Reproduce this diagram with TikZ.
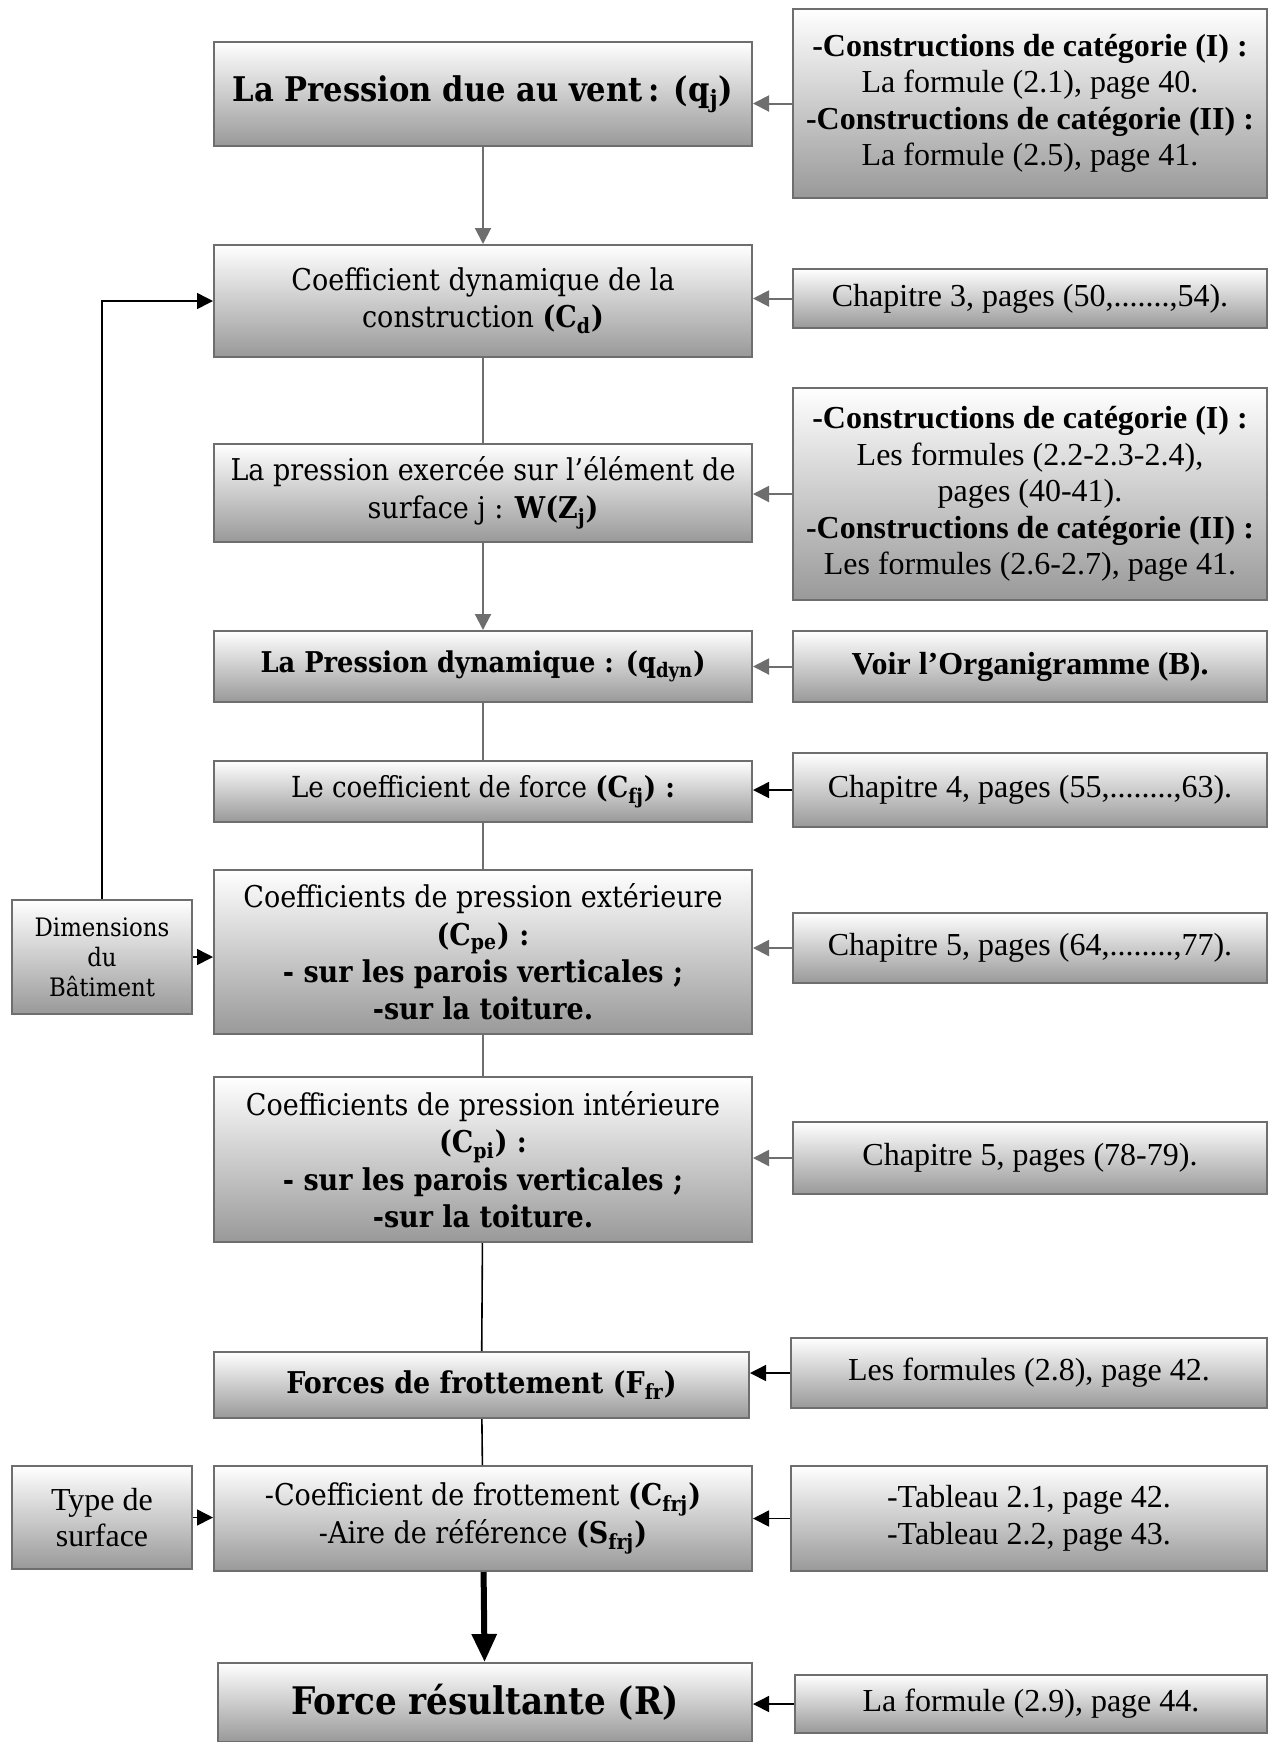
\documentclass[tikz,border=0pt]{standalone}
\usepackage{fontspec}
\setmainfont{Liberation Serif}
\newfontfamily\cambria{DejaVu Serif Condensed}
\usetikzlibrary{arrows.meta}

\begin{document}
\begin{tikzpicture}[x=0.5pt,y=-0.5pt,
  box/.style={draw=black!57, line width=1pt, top color=white, bottom color=black!40, align=center, inner sep=2pt},
  mainbox/.style={box, minimum width=269pt, font=\cambria\fontsize{15}{18.7}\selectfont},
  refbox/.style={box, minimum width=237pt, font=\fontsize{16}{18.2}\selectfont},
  sidebox/.style={box, minimum width=90pt},
  grayline/.style={draw=black!57, line width=1pt},
  grayarrow/.style={grayline, -{Triangle[length=8pt,width=8pt]}},
  blackline/.style={draw=black, line width=0.8pt},
  blackarrow/.style={blackline, -{Triangle[length=8pt,width=8pt]}}]
  \useasboundingbox (0,0) rectangle (1285,1742);

  % main column
  \node[mainbox, minimum height=52pt, font=\cambria\bfseries\fontsize{17}{20}\selectfont] (qj) at (483,94) {La Pression due au vent\,: (q\textsubscript{j})};
  \node[mainbox, minimum height=56pt] (cd) at (483,301) {Coefficient dynamique de la\\ construction \textbf{(C\textsubscript{d})}};
  \node[mainbox, minimum height=49pt] (wzj) at (483,493) {La pression exercée sur l’élément de\\ surface j : \textbf{W(Z\textsubscript{j})}};
  \node[mainbox, minimum height=35.5pt, font=\cambria\bfseries\fontsize{14.3}{17}\selectfont] (qdyn) at (483,666.5) {La Pression dynamique : (q\textsubscript{dyn})};
  \node[mainbox, minimum height=30.5pt, font=\cambria\fontsize{14.5}{18}\selectfont] (cfj) at (483,791.5) {Le coefficient de force \textbf{(C\textsubscript{fj}) :}};
  \node[mainbox, minimum height=82pt] (cpe) at (483,952) {Coefficients de pression extérieure\\ \textbf{(C\textsubscript{pe}) :}\\ \textbf{- sur les parois verticales ;}\\ \textbf{-sur la toiture.}};
  \node[mainbox, minimum height=82.5pt] (cpi) at (483,1159.5) {Coefficients de pression intérieure\\ \textbf{(C\textsubscript{pi}) :}\\ \textbf{- sur les parois verticales ;}\\ \textbf{-sur la toiture.}};
  \node[mainbox, minimum width=267.5pt, minimum height=33pt, font=\cambria\bfseries\fontsize{15}{18}\selectfont] (ffr) at (481.5,1385) {Forces de frottement (F\textsubscript{fr})};
  \node[mainbox, minimum height=52.5pt] (cfrj) at (483,1518.5) {-Coefficient de frottement \textbf{(C\textsubscript{frj})}\\ -Aire de référence \textbf{(S\textsubscript{frj})}};
  \node[mainbox, minimum width=267pt, minimum height=39.5pt, font=\cambria\bfseries\fontsize{19}{22}\selectfont] (res) at (485,1702.5) {Force résultante (R)};

  % references
  \node[refbox, minimum height=94.5pt] (refqj) at (1030,103.5) {\textbf{-Constructions de catégorie (I) :}\\ La formule (2.1), page 40.\\ \textbf{-Constructions de catégorie (II) :}\\ La formule (2.5), page 41.};
  \node[refbox, minimum height=29.5pt] (refcd) at (1030,298.5) {Chapitre 3, pages (50,.......,54).};
  \node[refbox, minimum height=106pt] (refwzj) at (1030,494) {\textbf{-Constructions de catégorie (I) :}\\ Les formules (2.2-2.3-2.4),\\ pages (40-41).\\ \textbf{-Constructions de catégorie (II) :}\\ Les formules (2.6-2.7), page 41.};
  \node[refbox, minimum height=35.5pt] (refqdyn) at (1030,666.5) {\textbf{Voir l’Organigramme (B).}};
  \node[refbox, minimum height=37pt] (refcfj) at (1030,790) {Chapitre 4, pages (55,........,63).};
  \node[refbox, minimum height=35pt] (refcpe) at (1030,948) {Chapitre 5, pages (64,........,77).};
  \node[refbox, minimum height=36pt] (refcpi) at (1030,1158) {Chapitre 5, pages (78-79).};
  \node[refbox, minimum width=238pt, minimum height=35pt] (refffr) at (1029,1373) {Les formules (2.8), page 42.};
  \node[refbox, minimum width=238pt, minimum height=52.5pt] (refcfrj) at (1029,1518.5) {-Tableau 2.1, page 42.\\ -Tableau 2.2, page 43.};
  \node[refbox, minimum width=236pt, minimum height=29pt] (refres) at (1031,1704) {La formule (2.9), page 44.};

  % side inputs
  \node[sidebox, minimum height=57pt, font=\cambria\fontsize{12.7}{15}\selectfont] (dim) at (102,957) {Dimensions\\ du\\ Bâtiment};
  \node[sidebox, minimum height=51.5pt, font=\fontsize{16}{18.2}\selectfont] (typ) at (102,1517.5) {Type de\\ surface};

  % vertical chain
  \draw[grayarrow] (qj) -- (cd);
  \draw[grayline] (cd) -- (wzj);
  \draw[grayarrow] (wzj) -- (qdyn);
  \draw[grayline] (qdyn) -- (cfj);
  \draw[grayline] (cfj) -- (cpe);
  \draw[grayline] (cpe) -- (cpi);
  \draw[blackline] (cpi) -- (ffr);
  \draw[blackline] (ffr) -- (cfrj);
  \draw[draw=black, line width=3pt, -{Triangle[length=14pt,width=12pt]}] (cfrj) -- (res);

  % references to the column
  \draw[grayarrow] (refqj.west) -- (refqj.west -| qj.east);
  \draw[grayarrow] (refcd.west) -- (refcd.west -| cd.east);
  \draw[grayarrow] (refwzj.west) -- (refwzj.west -| wzj.east);
  \draw[grayarrow] (refqdyn.west) -- (refqdyn.west -| qdyn.east);
  \draw[blackarrow] (refcfj.west) -- (refcfj.west -| cfj.east);
  \draw[grayarrow] (refcpe.west) -- (refcpe.west -| cpe.east);
  \draw[grayarrow] (refcpi.west) -- (refcpi.west -| cpi.east);
  \draw[blackarrow] (refffr.west) -- (refffr.west -| ffr.east);
  \draw[blackarrow] (refcfrj.west) -- (refcfrj.west -| cfrj.east);
  \draw[blackarrow] (refres.west) -- (refres.west -| res.east);

  % side inputs
  \draw[blackarrow] (dim.east) -- (dim.east -| cpe.west);
  \draw[blackarrow] (dim.north) |- (cd.west);
  \draw[blackarrow] (typ.east) -- (typ.east -| cfrj.west);
\end{tikzpicture}
\end{document}
